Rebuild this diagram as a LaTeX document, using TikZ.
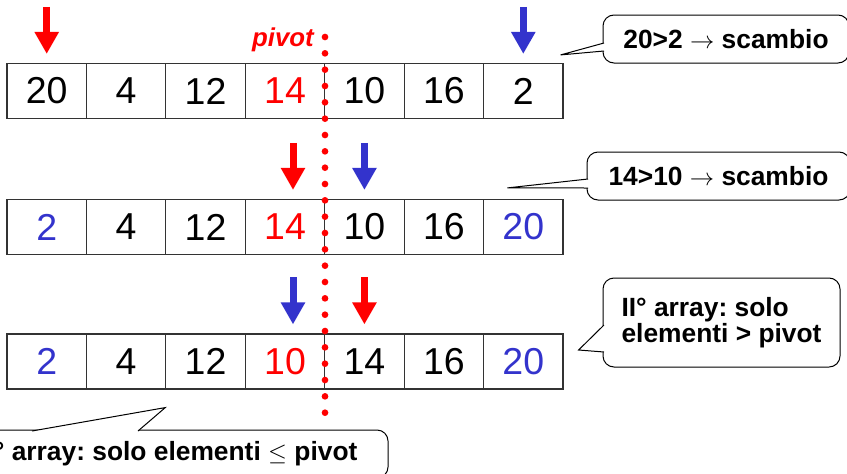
\documentclass[tikz,border=0pt]{standalone}
\usepackage{fontspec}
\setmainfont{Liberation Sans}
\usepackage{tikz}
\usetikzlibrary{positioning,calc,arrows.meta}
\definecolor{bluA}{RGB}{51,51,204}
\frenchspacing

\tikzset{
	cella/.style={draw=black!80, line width=0.035cm, minimum width=2.383cm, minimum height=1.65cm, inner sep=0pt, font=\fontsize{32}{38}\selectfont},
	ptr/.style={line width=0.21cm, -{Triangle[width=0.69cm,length=0.66cm]}},
	nota/.style={draw, fill=white, line width=0.03cm, rounded corners=0.33cm, inner sep=0pt, font=\fontsize{22.5}{22}\selectfont\bfseries},
	coda/.style={draw, fill=white, line width=0.03cm},
	piv/.style={red, inner sep=0pt, font=\fontsize{22}{24}\selectfont\bfseries\itshape}
}

\begin{document}
\begin{tikzpicture}[x=0.03cm, y=-0.03cm]
		\useasboundingbox (0,0) rectangle (847,473);

		\foreach \v/\c [count=\i] in {20/black, 4/black, 12/black, 14/red, 10/black, 16/black, 2/black} {
			\node[cella, text=\c] (a\i) at ({7+79.43*(\i-0.5)}, 91) {\v};
		}
		\foreach \v/\c [count=\i] in {2/bluA, 4/black, 12/black, 14/red, 10/black, 16/black, 20/bluA} {
			\node[cella, text=\c] (b\i) at ({7+79.43*(\i-0.5)}, 227) {\v};
		}
		\foreach \v/\c [count=\i] in {2/bluA, 4/black, 12/black, 10/red, 14/black, 16/black, 20/bluA} {
			\node[cella, text=\c] (c\i) at ({7+79.43*(\i-0.5)}, 361.5) {\v};
		}

		\coordinate (ptop) at (325, 37);
		\coordinate (pbot) at (325, 425);
		\draw[red, line width=0.2cm, line cap=round, dash pattern=on 0pt off 0.49cm] (ptop) -- (pbot);
		\node[piv, left=0.33cm of ptop, yshift=-0.1cm] (pv) {pivot};

		\draw[ptr, red] ([yshift=1.68cm]a1.north) -- ([yshift=0.27cm]a1.north);
		\draw[ptr, bluA] ([yshift=1.68cm]a7.north) -- ([yshift=0.27cm]a7.north);
		\draw[ptr, red] ([xshift=0.24cm, yshift=1.68cm]b4.north) -- ([xshift=0.24cm, yshift=0.27cm]b4.north);
		\draw[ptr, bluA] ([yshift=1.68cm]b5.north) -- ([yshift=0.27cm]b5.north);
		\draw[ptr, bluA] ([xshift=0.24cm, yshift=1.68cm]c4.north) -- ([xshift=0.24cm, yshift=0.27cm]c4.north);
		\draw[ptr, red] ([yshift=1.68cm]c5.north) -- ([yshift=0.27cm]c5.north);

		\node[nota, minimum width=7.38cm, minimum height=1.44cm] (nota1) at (726, 39) {20>2 $\rightarrow$ scambio};
		\coordinate (punta1) at ($(a7.north east)+(-3,-8)$);
		\draw[coda] ($(nota1.west)+(1.5,4)$) -- (punta1) -- ($(nota1.west)+(1.5,12)$);

		\node[nota, minimum width=7.89cm, minimum height=1.44cm] (nota2) at (718.5, 176) {14>10 $\rightarrow$ scambio};
		\coordinate (punta2) at ($(b7.north)+(-16,-11)$);
		\draw[coda] ($(nota2.west)+(1.5,3)$) -- (punta2) -- ($(nota2.west)+(1.5,12)$);

		\node[nota, minimum width=7.11cm, minimum height=2.67cm, align=left] (nota3) at (721.5, 322.5) {II° array: solo\\elementi > pivot};
		\coordinate (punta3) at ($(c7.east)+(15,-11.5)$);
		\draw[coda] ($(nota3.west)+(1.5,2.5)$) -- (punta3) -- ($(nota3.west)+(1.5,29.5)$);

		\node[nota, minimum width=12.96cm, minimum height=1.44cm] (nota4) at (172, 454) {I° array: solo elementi $\leq$ pivot};
		\coordinate (punta4) at ($(c3.south west)+(0,18)$);
		\draw[coda] ($(nota4.north)+(-140,1.5)$) -- (punta4) -- ($(nota4.north)+(-34,1.5)$);
	\end{tikzpicture}
\end{document}
